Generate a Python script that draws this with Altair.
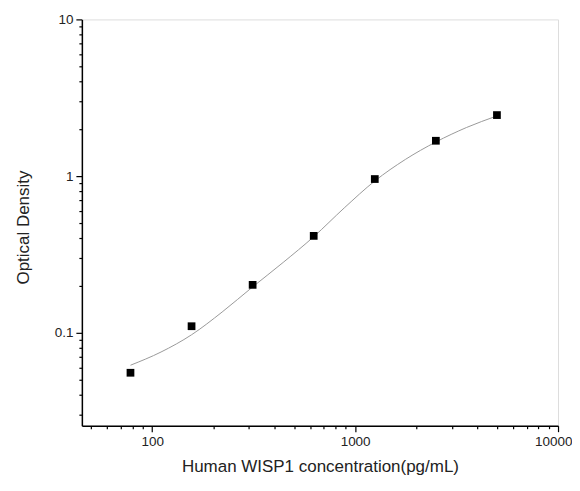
import altair as alt
import pandas as pd

# standards (measured points)
conc = [78.125, 156.25, 312.5, 625, 1250, 2500, 5000]
od = [0.0555, 0.110, 0.202, 0.415, 0.957, 1.68, 2.45]

# fitted curve
curve_x = [78.125, 110.5, 156.25, 221, 312.5, 442, 625, 884, 1250, 1768, 2500, 3536, 5000]
curve_y = [0.062, 0.0753, 0.097, 0.1355, 0.196, 0.281, 0.41, 0.626, 0.93, 1.276, 1.65, 2.04, 2.42]

x_ticks = [50, 60, 70, 80, 90, 100, 200, 300, 400, 500, 600, 700, 800, 900, 1000,
           2000, 3000, 4000, 5000, 6000, 7000, 8000, 9000, 10000]
y_ticks = [0.03, 0.04, 0.05, 0.06, 0.07, 0.08, 0.09, 0.1, 0.2, 0.3, 0.4, 0.5, 0.6, 0.7, 0.8, 0.9,
           1, 2, 3, 4, 5, 6, 7, 8, 9, 10]

pts = pd.DataFrame({"x": conc, "y": od})
cur = pd.DataFrame({"x": curve_x, "y": curve_y})

is_major = "abs(log(datum.value)/LN10 - round(log(datum.value)/LN10)) < 0.000001"

FONT = "Liberation Sans"

xscale = alt.Scale(type="log", domain=[45, 10000], nice=False)
yscale = alt.Scale(type="log", domain=[0.0255, 10], nice=False)

xaxis = alt.Axis(
    values=x_ticks, grid=False, domainColor="black", domainWidth=1.5,
    tickColor="black", tickWidth=1.2,
    tickSize={"condition": {"test": is_major, "value": 6}, "value": 3},
    labelExpr="(abs(log(datum.value)/LN10 - round(log(datum.value)/LN10)) < 0.000001) ? datum.label : ''",
    labelFont=FONT, labelFontSize=13.5, labelColor="#222", labelPadding=3,
    labelFlush=True, labelFlushOffset=14, labelOverlap=False,
    title="Human WISP1 concentration(pg/mL)", titleFont=FONT, titleFontSize=17,
    titleFontWeight="normal", titleColor="#222", titlePadding=10,
    format="d",
)
yaxis = alt.Axis(
    values=y_ticks, grid=False, domainColor="black", domainWidth=1.5,
    tickColor="black", tickWidth=1.2,
    tickSize={"condition": {"test": is_major, "value": 6}, "value": 3},
    labelExpr="(abs(log(datum.value)/LN10 - round(log(datum.value)/LN10)) < 0.000001) ? datum.label : ''",
    labelFont=FONT, labelFontSize=13.5, labelColor="#222", labelPadding=3,
    labelFlush=False, labelOverlap=False,
    title="Optical Density", titleFont=FONT, titleFontSize=17,
    titleFontWeight="normal", titleColor="#222", titlePadding=22,
    titleY=208,
    format="~g",
)

line = alt.Chart(cur).mark_line(color="#9a9a9a", strokeWidth=1, interpolate="monotone").encode(
    x=alt.X("x:Q", scale=xscale, axis=xaxis),
    y=alt.Y("y:Q", scale=yscale, axis=yaxis),
)
points = alt.Chart(pts).mark_square(color="black", size=60, opacity=1).encode(
    x=alt.X("x:Q", scale=xscale),
    y=alt.Y("y:Q", scale=yscale),
)

chart = (line + points).properties(
    width=477, height=407,
    autosize="none",
    padding={"left": 74, "top": 11, "right": 14, "bottom": 50},
).configure_view(stroke=None).configure(background="white")

chart.save("out.html", embed_options={"renderer": "svg", "actions": False})
